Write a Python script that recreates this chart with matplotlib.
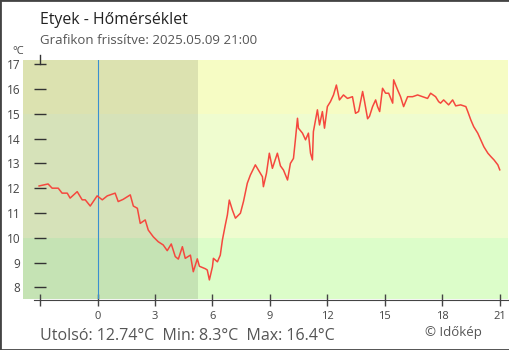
import numpy as np
import matplotlib.pyplot as plt
from matplotlib.patches import Rectangle

plt.rcParams['font.family'] = ['Open Sans', 'DejaVu Sans']

# time in hours relative to midnight, temperature in °C
hours = [-3.05, -2.58, -2.37, -2.05, -1.85, -1.58, -1.43, -1.06, -0.80, -0.64,
         -0.38, -0.02, 0.25, 0.51, 0.92, 1.08, 1.34, 1.71, 1.87, 2.08,
         2.13, 2.23, 2.49, 2.65, 2.91, 3.17, 3.43, 3.64, 3.85, 4.06,
         4.22, 4.43, 4.58, 4.85, 5.00, 5.21, 5.32, 5.47, 5.63, 5.73,
         5.84, 6.00, 6.05, 6.26, 6.41, 6.52, 6.67, 6.78, 6.88, 7.04,
         7.20, 7.46, 7.62, 7.82, 7.98, 8.24, 8.40, 8.61, 8.66, 8.82,
         8.97, 9.13, 9.39, 9.55, 9.71, 9.92, 10.07, 10.23, 10.33, 10.44,
         10.49, 10.70, 10.86, 11.01, 11.12, 11.22, 11.27, 11.48, 11.59, 11.74,
         11.85, 12.00, 12.16, 12.32, 12.47, 12.63, 12.84, 13.05, 13.31, 13.47,
         13.63, 13.84, 13.94, 14.10, 14.20, 14.36, 14.52, 14.62, 14.73, 14.88,
         15.04, 15.20, 15.41, 15.46, 15.67, 15.82, 15.98, 16.19, 16.45, 16.71,
         16.97, 17.23, 17.39, 17.65, 17.81, 17.91, 18.07, 18.33, 18.54, 18.70,
         18.96, 19.23, 19.33, 19.49, 19.64, 19.85, 20.01, 20.17, 20.38, 20.54,
         20.70, 20.90, 21.00]
temps = [12.09, 12.17, 12.00, 12.00, 11.80, 11.80, 11.60, 11.86, 11.53, 11.53,
         11.28, 11.69, 11.53, 11.69, 11.80, 11.46, 11.55, 11.73, 11.28, 11.19,
         10.99, 10.58, 10.72, 10.31, 10.04, 9.84, 9.71, 9.48, 9.75, 9.24,
         9.14, 9.64, 9.17, 9.30, 8.63, 9.15, 8.85, 8.80, 8.75, 8.70,
         8.30, 8.83, 9.17, 9.03, 9.30, 9.91, 10.51, 10.92, 11.52, 11.12,
         10.79, 10.99, 11.46, 12.20, 12.53, 12.94, 12.73, 12.46, 12.06, 12.60,
         13.41, 12.80, 13.41, 12.90, 12.73, 12.33, 13.00, 13.20, 13.95, 14.82,
         14.42, 14.22, 13.95, 14.22, 13.41, 13.14, 14.28, 15.16, 14.55, 15.09,
         14.42, 15.29, 15.49, 15.76, 16.16, 15.56, 15.76, 15.62, 15.69, 15.02,
         15.09, 15.90, 15.50, 14.80, 14.90, 15.29, 15.56, 15.29, 15.09, 16.03,
         15.83, 15.83, 15.43, 16.37, 15.96, 15.69, 15.29, 15.69, 15.69, 15.76,
         15.69, 15.62, 15.83, 15.69, 15.49, 15.43, 15.56, 15.36, 15.56, 15.32,
         15.36, 15.29, 15.09, 14.75, 14.48, 14.22, 13.95, 13.67, 13.41, 13.27,
         13.14, 12.94, 12.74]

xticks = [-3, 0, 3, 6, 9, 12, 15, 18, 21]
xlabels = ['', '0', '3', '6', '9', '12', '15', '18', '21']
yticks = list(range(8, 18))
night_end = 5.22
last, tmin, tmax = 12.74, 8.3, 16.4

fig = plt.figure(figsize=(5.1, 3.5), dpi=100)
ax = fig.add_axes([23 / 510, 51 / 350, 485 / 510, 239 / 350])
ax.set_xlim(-3.89, 21.43)
ax.set_ylim(7.53, 17.17)

# temperature bands
ax.axhspan(7.53, 10, color='#dcfdc9', lw=0)
ax.axhspan(10, 15, color='#effccf', lw=0)
ax.axhspan(15, 17.17, color='#f6fcc4', lw=0)
ax.axvspan(-3.89, night_end, color='black', alpha=0.1, lw=0)

ax.axvline(0, color='#3a8fd0', lw=0.8)
ax.plot(hours, temps, color='#f5483e', lw=1.1)

# short y tick marks inside the plot
tr = ax.get_yaxis_transform()
ax.hlines(yticks, 0.0227, 0.0474, transform=tr, color='#333333', lw=1)
ax.plot([-3, -3], [0.985, 1.021], transform=ax.get_xaxis_transform(),
        color='#333333', lw=1, clip_on=False)

for s in ['top', 'right', 'left']:
    ax.spines[s].set_visible(False)
ax.spines['bottom'].set_bounds(-3.31, 21.43)
ax.spines['bottom'].set_color('#444444')
ax.spines['bottom'].set_position(('outward', 1))

ax.set_xticks(xticks)
ax.set_xticklabels(xlabels)
ax.tick_params(axis='x', direction='inout', length=9, width=1, color='#444444',
               labelsize=8, labelcolor='#444444', pad=3)
ax.set_yticks(yticks)
ax.tick_params(axis='y', length=0, labelsize=8.5, labelcolor='#444444', pad=2)

fig.text(18 / 510, 1 - 51 / 350, '°C', fontsize=8, color='#444444', ha='center', va='center')
fig.text(40 / 510, 1 - 23.5 / 350, 'Etyek - Hőmérséklet', fontsize=11.4, color='#222222')
fig.text(40 / 510, 1 - 44.5 / 350, 'Grafikon frissítve: 2025.05.09 21:00',
         fontsize=9.5, color='#555555')
fig.text(40 / 510, 1 - 339.5 / 350,
         f'Utolsó: {last:.2f}°C  Min: {tmin}°C  Max: {tmax}°C',
         fontsize=11.5, color='#555555')
fig.text(425 / 510, 1 - 336 / 350, '© Időkép', fontsize=9.5, color='#555555')

fig.patches.append(Rectangle((0, 0), 1, 1, transform=fig.transFigure, fill=False,
                             edgecolor='#444444', lw=2))

fig.savefig('out.png', dpi=100)
